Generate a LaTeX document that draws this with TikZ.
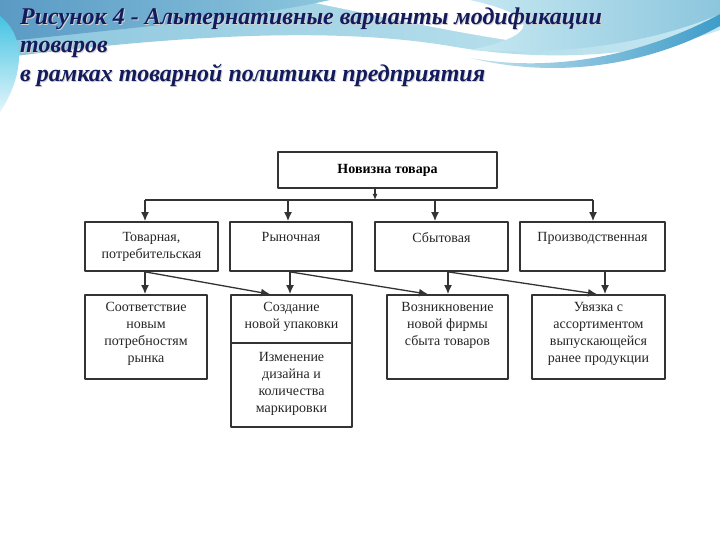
\documentclass[tikz,border=0pt]{standalone}
\usepackage{fontspec}
\setmainfont{Liberation Serif}
\usetikzlibrary{arrows.meta,positioning}

\definecolor{navy}{HTML}{141B5C}
\definecolor{skydark}{HTML}{5A9AC4}
\definecolor{skymid}{HTML}{8CC6DE}
\definecolor{skylight}{HTML}{C6E8F1}
\definecolor{swoosh}{HTML}{3E9CC9}
\definecolor{cyanedge}{HTML}{45C3E3}
\definecolor{ink}{HTML}{333333}

\begin{document}
\begin{tikzpicture}[x=1pt, y=-1pt, line join=round,
    box/.style={draw=ink, line width=1.7pt, fill=white, inner sep=0pt},
    txt/.style={align=center, anchor=north, inner sep=0pt, text=black!85,
      font=\fontsize{14}{17}\selectfont},
    wire/.style={draw=ink, line width=1.5pt},
    arr/.style={wire, -{Latex[length=9pt,width=8pt]}},
    ttl/.style={anchor=base west, inner sep=0pt, text=navy,
      font=\fontsize{24}{28}\selectfont\bfseries\itshape},
    ttlshadow/.style={ttl, text=black!18}]
  \useasboundingbox (0,0) rectangle (720,540);
  \fill[white] (0,0) rectangle (720,540);

  % slide background
  \shade[left color=skymid, right color=skylight] (0,0) -- (720,0) -- (720,30)
    .. controls (640,58) and (540,62) .. (450,46)
    .. controls (330,26) and (170,36) .. (0,58) -- cycle;
  \fill[white] (300,0) .. controls (380,16) and (440,30) .. (520,42)
    .. controls (600,52) and (660,30) .. (720,8) -- (720,0) -- cycle;
  \shade[left color=skylight, right color=skymid] (470,0) -- (720,0) -- (720,14)
    .. controls (650,44) and (560,56) .. (470,50) .. controls (520,40) and (560,20) .. (470,0) -- cycle;
  \shade[left color=skydark, right color=skymid] (0,0) -- (330,0)
    .. controls (260,16) and (150,26) .. (0,42) -- cycle;
  \shade[left color=swoosh!30, right color=swoosh] (470,58)
    .. controls (560,74) and (650,52) .. (720,14) -- (720,26)
    .. controls (650,64) and (560,80) .. (470,58) -- cycle;
  \shade[top color=cyanedge, bottom color=cyanedge!15] (0,16)
    .. controls (30,40) and (20,82) .. (0,112) -- cycle;

  % title
  \node[ttlshadow] (s1t) at (21,26) {Рисунок 4 - Альтернативные варианты модификации};
  \node[ttlshadow] (s2t) at (21,54) {товаров};
  \node[ttlshadow] (s3t) at (21,83) {в рамках товарной политики предприятия};
  \node[ttl] (t1) at (20,25) {Рисунок 4 - Альтернативные варианты модификации};
  \node[ttl] (t2) at (20,53) {товаров};
  \node[ttl] (t3) at (20,82) {в рамках товарной политики предприятия};

  % boxes
  \node[box, minimum width=219pt, minimum height=36pt,
    font=\fontsize{14}{17}\selectfont\bfseries] (nov) at (387.5,170) {Новизна товара};

  \node[box, minimum width=133pt, minimum height=49pt] (tov) at (151.5,246.5) {};
  \node[box, minimum width=122pt, minimum height=49pt] (ryn) at (291,246.5) {};
  \node[box, minimum width=133pt, minimum height=49pt] (sbyt) at (441.5,246.5) {};
  \node[box, minimum width=145pt, minimum height=49pt] (proizv) at (592.5,246.5) {};

  \node[box, minimum width=122pt, minimum height=84pt] (sootv) at (146,337) {};
  \node[box, minimum width=121pt, minimum height=132pt] (upak) at (291.5,361) {};
  \node[box, minimum width=121pt, minimum height=84pt] (firm) at (447.5,337) {};
  \node[box, minimum width=133pt, minimum height=84pt] (uvyaz) at (598.5,337) {};

  \coordinate (div) at (0,343);
  \draw[box] (upak.west |- div) -- (upak.east |- div);

  % texts
  \node[txt] (tovt) at ([yshift=-11pt]tov.north) {Товарная,\\потребительская};
  \node[txt] (rynt) at ([yshift=-11pt]ryn.north) {Рыночная};
  \node[txt] (sbytt) at ([yshift=-11pt]sbyt.north) {Сбытовая};
  \node[txt] (proizvt) at ([yshift=-11pt]proizv.north) {Производственная};

  \node[txt] (sootvt) at ([yshift=-8pt]sootv.north) {Соответствие\\новым\\потребностям\\рынка};
  \node[txt] (upakt) at ([yshift=-8pt]upak.north) {Создание\\новой упаковки};
  \node[txt] (dizt) at ([yshift=-9pt]upak.center |- div) {Изменение\\дизайна и\\количества\\маркировки};
  \node[txt] (firmt) at ([yshift=-8pt]firm.north) {Возникновение\\новой фирмы\\сбыта товаров};
  \node[txt] (uvyazt) at ([yshift=-8pt]uvyaz.north) {Увязка с\\ассортиментом\\выпускающейся\\ранее продукции};

  % connectors
  \coordinate (split) at (375,200);
  \coordinate (d1) at (145,200);
  \coordinate (d2) at (288,200);
  \coordinate (d3) at (435,200);
  \coordinate (d4) at (593,200);
  \coordinate (s1) at ([xshift=-6.5pt]tov.south);
  \coordinate (s2) at ([xshift=-1pt]ryn.south);
  \coordinate (s3) at ([xshift=6.5pt]sbyt.south);
  \coordinate (s4) at ([xshift=12.5pt]proizv.south);

  \draw[arr, -{Latex[length=6pt,width=5pt]}] (nov.south -| split) -- (split);
  \draw[wire] (d1) -- (d4);
  \foreach \c/\b in {d1/tov, d2/ryn, d3/sbyt, d4/proizv}
    \draw[arr] (\c) -- (\c |- \b.north);

  \draw[arr] (s1) -- (s1 |- sootv.north);
  \draw[arr] (s2) -- (s2 |- upak.north);
  \draw[arr] (s3) -- (s3 |- firm.north);
  \draw[arr] (s4) -- (s4 |- uvyaz.north);

  \draw[arr, line width=1.3pt] (s1) -- ([xshift=-21.5pt]upak.north);
  \draw[arr, line width=1.3pt] (s2) -- ([xshift=-19.5pt]firm.north);
  \draw[arr, line width=1.3pt] (s3) -- ([xshift=-1.5pt]uvyaz.north);
\end{tikzpicture}
\end{document}
